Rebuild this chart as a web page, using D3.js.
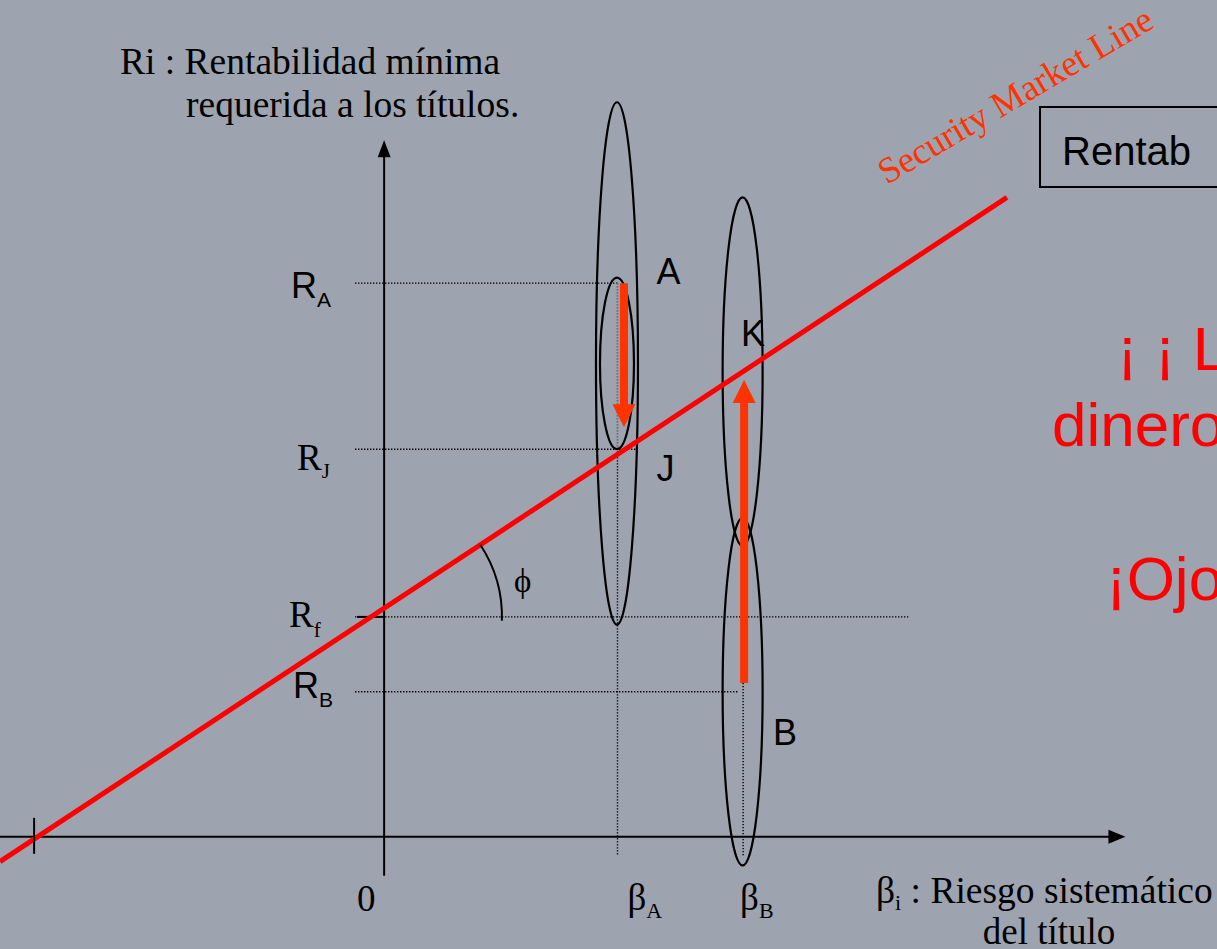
<!DOCTYPE html>
<html>
<head>
<meta charset="utf-8">
<script src="https://cdn.jsdelivr.net/npm/d3@7"></script>
<style>
  html, body { margin: 0; padding: 0; background: #9da4af; overflow: hidden; }
  svg { display: block; }
</style>
</head>
<body>
<svg id="chart" width="1217" height="949"></svg>
<script>
// ---- data (beta on the horizontal axis, return % on the vertical axis) ----
const smlBeta = [-2.14, 3.47];          // security market line end points
const smlReturn = [-0.45, 11.63];
const axisBeta = [-2.14, 4.13];         // horizontal axis extent
const axisReturn = [-0.71, 12.67];      // vertical axis extent
const crossBeta = -1.95;                // where the SML meets the beta axis

const levelNames = ["A", "J", "f", "B"];
const levelReturns = [10.07, 7.05, 4.0, 2.64];
const levelEndBeta = [1.3, 1.4, 2.92, 1.97];

const betaNames = ["A", "B"];
const betaValues = [1.3, 2.0];
const guideTop = [10.07, 2.8];
const guideBottom = -0.35;

const ellipseBeta = [1.3, 1.3, 2.0, 2.0];
const ellipseMid = [8.61, 8.61, 8.46, 2.64];
const ellipseHalf = [4.75, 1.56, 3.17, 3.16];

const arrowBeta = [1.3, 2.0];
const arrowFrom = [10.07, 2.8];
const arrowTo = [7.45, 8.31];

const pointNames = ["A", "J", "K", "B"];
const pointBeta = [1.3, 1.3, 2.0, 2.0];
const pointReturn = [10.07, 7.05, 8.46, 2.64];

// ---- layout ----
const W = 1217, H = 949;
const SERIF = "'Liberation Serif','Times New Roman',Times,serif";
const SANS = "'Liberation Sans',Arial,Helvetica,sans-serif";
const x = d3.scaleLinear().domain([-2.14, 4.64]).range([0, W]);
const y = d3.scaleLinear().domain([-2.04, 15.22]).range([H, 0]);

const svg = d3.select("#chart");
svg.append("rect").attr("width", W).attr("height", H).attr("fill", "#9da4af");

const dotted = sel => sel.attr("stroke", "#000").attr("stroke-width", 1.4)
  .attr("stroke-dasharray", "1.4,1.6").attr("fill", "none");

// horizontal guide lines at each return level
svg.selectAll("line.level").data(levelReturns).join("line")
  .attr("class", "level")
  .attr("x1", 355).attr("x2", (d, i) => x(levelEndBeta[i]))
  .attr("y1", d => y(d)).attr("y2", d => y(d))
  .call(dotted);

// vertical guides under each beta
svg.selectAll("line.guide").data(betaValues).join("line")
  .attr("class", "guide")
  .attr("x1", d => x(d)).attr("x2", d => x(d))
  .attr("y1", (d, i) => y(guideTop[i])).attr("y2", y(guideBottom))
  .call(dotted);
// lighter stretch of the beta A guide between R_A and R_J
svg.append("line")
  .attr("x1", x(betaValues[0])).attr("x2", x(betaValues[0]))
  .attr("y1", y(levelReturns[0])).attr("y2", y(levelReturns[1]))
  .attr("stroke", "#9da4af").attr("stroke-width", 2);
svg.append("line")
  .attr("x1", x(betaValues[0])).attr("x2", x(betaValues[0]))
  .attr("y1", y(levelReturns[0])).attr("y2", y(levelReturns[1]))
  .call(dotted).attr("stroke", "#5a5f66");

// axes
svg.append("line")
  .attr("x1", x(axisBeta[0])).attr("x2", x(axisBeta[1]) - 14)
  .attr("y1", y(0)).attr("y2", y(0))
  .attr("stroke", "#000").attr("stroke-width", 2);
svg.append("path")
  .attr("d", `M${x(axisBeta[1])},${y(0)} L${x(axisBeta[1]) - 17},${y(0) - 7} L${x(axisBeta[1]) - 17},${y(0) + 7}Z`)
  .attr("fill", "#000");
svg.append("line")
  .attr("x1", x(0)).attr("x2", x(0))
  .attr("y1", y(axisReturn[0])).attr("y2", y(axisReturn[1]) + 14)
  .attr("stroke", "#000").attr("stroke-width", 2);
svg.append("path")
  .attr("d", `M${x(0)},${y(axisReturn[1])} L${x(0) - 6.5},${y(axisReturn[1]) + 17} L${x(0) + 6.5},${y(axisReturn[1]) + 17}Z`)
  .attr("fill", "#000");
// small mark at R_f on the vertical axis
svg.append("line")
  .attr("x1", 357).attr("x2", x(0))
  .attr("y1", y(levelReturns[2])).attr("y2", y(levelReturns[2]))
  .attr("stroke", "#000").attr("stroke-width", 2);

// return distributions
const ellipseRx = [21, 17, 20, 20];
svg.selectAll("ellipse").data(ellipseBeta).join("ellipse")
  .attr("cx", d => x(d) - 0.5)
  .attr("cy", (d, i) => y(ellipseMid[i]))
  .attr("rx", (d, i) => ellipseRx[i])
  .attr("ry", (d, i) => y(ellipseMid[i] - ellipseHalf[i]) - y(ellipseMid[i]))
  .attr("fill", "none").attr("stroke", "#000").attr("stroke-width", 2.2);

// security market line
const sml = d3.line().x(d => x(d[0])).y(d => y(d[1]));
svg.append("path")
  .attr("d", sml(smlBeta.map((b, i) => [b, smlReturn[i]])))
  .attr("stroke", "#ff0000").attr("stroke-width", 5).attr("fill", "none");

// tick where the SML cuts the beta axis
svg.append("line")
  .attr("x1", x(crossBeta)).attr("x2", x(crossBeta))
  .attr("y1", y(0) - 19).attr("y2", y(0) + 17)
  .attr("stroke", "#000").attr("stroke-width", 2);

// angle phi between the SML and the risk-free level
{
  const slope = (smlReturn[1] - smlReturn[0]) / (smlBeta[1] - smlBeta[0]);
  const bCross = smlBeta[0] + (levelReturns[2] - smlReturn[0]) / slope;
  const cx = x(bCross), cy = y(levelReturns[2]);
  const pxSlope = (y(smlReturn[1]) - y(smlReturn[0])) / (x(smlBeta[1]) - x(smlBeta[0]));
  const a1 = Math.atan(pxSlope), a2 = 0.03, r = 131;
  svg.append("path")
    .attr("d", `M${cx + r * Math.cos(a1)},${cy + r * Math.sin(a1)} A${r},${r} 0 0 1 ${cx + r * Math.cos(a2)},${cy + r * Math.sin(a2)}`)
    .attr("fill", "none").attr("stroke", "#000").attr("stroke-width", 2);
  svg.append("text").attr("x", cx + 143).attr("y", cy - 25)
    .attr("font-family", SERIF).attr("font-size", 33).text("\u03D5");
}

// adjustment arrows
const arrowDx = [6.5, 1];
arrowBeta.forEach((b, i) => {
  const ax = x(b) + arrowDx[i], y0 = y(arrowFrom[i]), y1 = y(arrowTo[i]);
  const dir = y1 > y0 ? 1 : -1, head = 23, hw = 11.5, sw = 4;
  const yb = y1 - dir * head;
  svg.append("path")
    .attr("d", `M${ax - sw},${y0} L${ax + sw},${y0} L${ax + sw},${yb} L${ax + hw},${yb} L${ax},${y1} L${ax - hw},${yb} L${ax - sw},${yb}Z`)
    .attr("fill", "#ff3300");
});

// level labels R_A, R_J, R_f, R_B
const levelFont = [SANS, SERIF, SERIF, SANS];
const levelLabelX = [291, 297, 289, 293];
const levelLabelDy = [15, 21, 10, 6];
const levelSubDy = [9, 8, 10, 9];
const levelSize = [36, 37, 37, 36];
levelReturns.forEach((r, i) => {
  const t = svg.append("text")
    .attr("x", levelLabelX[i]).attr("y", y(r) + levelLabelDy[i])
    .attr("font-family", levelFont[i]).attr("font-size", levelSize[i]).attr("fill", "#000");
  t.append("tspan").text("R");
  t.append("tspan").attr("dy", levelSubDy[i]).attr("font-size", 21).text(levelNames[i]);
});

// point labels A, J, K, B
const pointDx = [39, 39, -2, 30], pointDy = [1, 32, -26, 53];
pointNames.forEach((n, i) => {
  svg.append("text")
    .attr("x", x(pointBeta[i]) + pointDx[i]).attr("y", y(pointReturn[i]) + pointDy[i])
    .attr("font-family", SANS).attr("font-size", 36).attr("fill", "#000").text(n);
});

// beta axis labels
svg.append("text").attr("x", x(0) - 18).attr("y", 911).attr("text-anchor", "middle")
  .attr("font-family", SERIF).attr("font-size", 37).text("0");
const betaLabelDx = [10, -3];
betaValues.forEach((b, i) => {
  const t = svg.append("text").attr("x", x(b) + betaLabelDx[i]).attr("y", 910)
    .attr("font-family", SERIF).attr("font-size", 37);
  t.append("tspan").text("\u03B2");
  t.append("tspan").attr("dy", 8).attr("font-size", 22).text(betaNames[i]);
});

// axis titles
{
  const t = svg.append("text").attr("font-family", SERIF).attr("font-size", 37.5);
  t.append("tspan").attr("x", 120).attr("y", 74).text("Ri : Rentabilidad mínima");
  t.append("tspan").attr("x", 186).attr("y", 117).text("requerida a los títulos.");
  const b = svg.append("text").attr("font-family", SERIF).attr("font-size", 37.5);
  b.append("tspan").attr("x", 876).attr("y", 903).text("\u03B2");
  b.append("tspan").attr("dy", 7).attr("font-size", 22).text("i");
  b.append("tspan").attr("dy", -7).text(" : Riesgo sistemático");
  svg.append("text").attr("x", 1049).attr("y", 944).attr("text-anchor", "middle")
    .attr("font-family", SERIF).attr("font-size", 37).text("del título");
}

// SML caption
svg.append("text")
  .attr("transform", "translate(887,185) rotate(-30.5)")
  .attr("font-family", SERIF).attr("font-size", 36.5).attr("fill", "#ff3300")
  .text("Security Market Line");

// boxed note and red remarks at the right edge
svg.append("rect").attr("x", 1040).attr("y", 107).attr("width", 220).attr("height", 80)
  .attr("fill", "none").attr("stroke", "#000").attr("stroke-width", 2);
svg.append("text").attr("x", 1062).attr("y", 165)
  .attr("font-family", SANS).attr("font-size", 40).text("Rentab");

const remarks = ["¡ ¡ L", "dinero", "¡Ojo"];
const remarkX = [1117, 1052, 1106];
const remarkY = [370, 446, 600];
remarks.forEach((s, i) => {
  svg.append("text").attr("x", remarkX[i]).attr("y", remarkY[i])
    .attr("font-family", SANS).attr("font-size", 62).attr("fill", "#ff0000")
    .attr("xml:space", "preserve").style("white-space", "pre").text(s);
});
</script>
</body>
</html>
